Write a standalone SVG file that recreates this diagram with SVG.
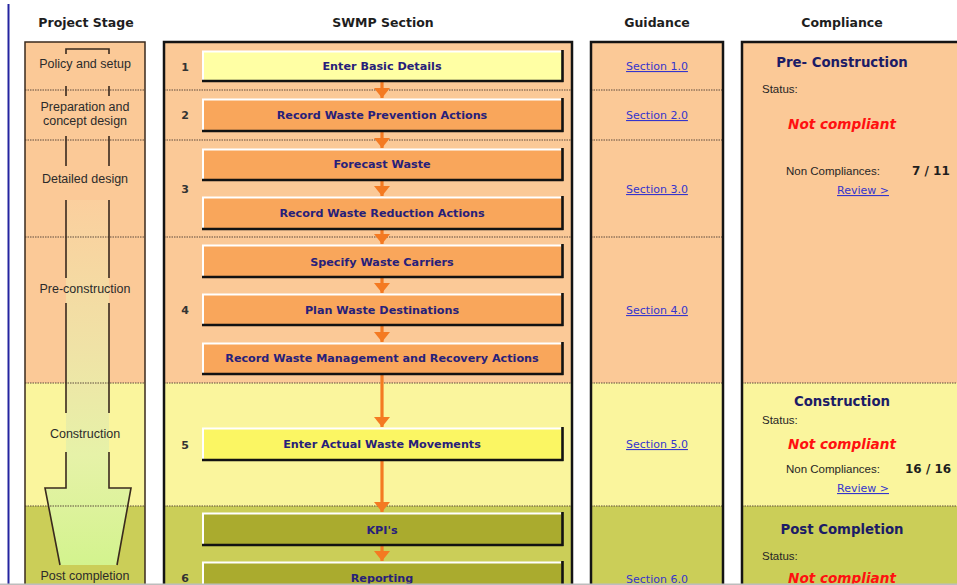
<svg xmlns="http://www.w3.org/2000/svg" width="957" height="585" viewBox="0 0 957 585">
  <defs>
    <linearGradient id="shaftFill" gradientUnits="userSpaceOnUse" x1="0" y1="200" x2="0" y2="565">
      <stop offset="0" stop-color="#FBCF9E"/>
      <stop offset="0.4" stop-color="#F0E2A6"/>
      <stop offset="0.7" stop-color="#E6F2A8"/>
      <stop offset="1" stop-color="#D3F38E"/>
    </linearGradient>
    <marker id="flowHead" markerUnits="userSpaceOnUse" markerWidth="10" markerHeight="16" refX="10" refY="8" orient="auto">
      <path d="M0,0 L10,8 L0,16 Z" fill="#F47A22"/>
    </marker>
    <style>
      .peach { fill: #FBC997; }
      .yellow { fill: #FAF59D; }
      .olive { fill: #CBCE58; }
      .frame { fill: none; stroke: #141414; stroke-width: 2.5; }
      .frame-thin { fill: none; stroke: #3A2A1E; stroke-width: 1.5; }
      .dots { stroke: #5C4A3C; stroke-width: 1; stroke-dasharray: 1.5 1; fill: none; }
      .hdr { font-family: "DejaVu Sans", Verdana, sans-serif; font-weight: bold; font-size: 12.5px; fill: #1E1E1E; text-anchor: middle; }
      .stage { font-family: "Liberation Sans", Arial, sans-serif; font-size: 12.5px; fill: #2B2B2B; text-anchor: middle; }
      .stage-line { fill: none; stroke: #3A2A1E; stroke-width: 1.6; }
      .num { font-family: "DejaVu Sans", Verdana, sans-serif; font-weight: bold; font-size: 11px; fill: #333; text-anchor: middle; }
      .face-y { fill: #FFFFA4; }
      .face-o { fill: #F9A65B; }
      .face-yy { fill: #FBF663; }
      .face-k { fill: #AAAB2E; }
      .hi { fill: none; stroke: #FFFFFF; stroke-width: 2; }
      .sh { fill: none; stroke: #121212; stroke-width: 2.6; }
      .btxt { font-family: "DejaVu Sans", Verdana, sans-serif; font-weight: bold; font-size: 11.2px; fill: #27207A; text-anchor: middle; }
      .link { font-family: "DejaVu Sans", Verdana, sans-serif; font-size: 11px; fill: #3535CC; text-decoration: underline; text-anchor: middle; }
      .phase { font-family: "DejaVu Sans", Verdana, sans-serif; font-weight: bold; font-size: 13.3px; fill: #1C1C66; text-anchor: middle; }
      .lbl { font-family: "Liberation Sans", Arial, sans-serif; font-size: 11.5px; fill: #262626; }
      .bad { font-family: "DejaVu Sans", Verdana, sans-serif; font-weight: bold; font-style: italic; font-size: 13.6px; fill: #FF1010; text-anchor: middle; }
      .count { font-family: "DejaVu Sans", Verdana, sans-serif; font-weight: bold; font-size: 12px; fill: #1E1E1E; }
      .flow { stroke: #F47A22; stroke-width: 3.2; fill: none; marker-end: url(#flowHead); }
    </style>
  </defs>

  <rect x="0" y="0" width="957" height="585" fill="#FFFFFF"/>
  <line x1="8.5" y1="4" x2="8.5" y2="585" stroke="#2424A0" stroke-width="2"/>

  <!-- column headings -->
  <g id="headings">
    <text class="hdr" x="86" y="27">Project Stage</text>
    <text class="hdr" x="383" y="27">SWMP Section</text>
    <text class="hdr" x="657" y="27">Guidance</text>
    <text class="hdr" x="842" y="27">Compliance</text>
  </g>

  <!-- project stage column -->
  <g id="stage-column">
    <rect class="peach" x="25" y="42" width="120" height="341"/>
    <rect class="yellow" x="25" y="383" width="120" height="123"/>
    <rect class="olive" x="25" y="506" width="120" height="90"/>
    <path d="M66,200 H109 V488 H131 L117,565 H60 L45,488 H66 Z" fill="url(#shaftFill)"/>
    <path class="dots" d="M25,90 H145 M25,140 H145 M25,237 H145 M25,383 H145 M25,506 H145"/>
    <path class="stage-line" d="M66,54 V49 H109 V54 M66,86 V96 M109,86 V96 M66,136 V166 M109,136 V166 M66,200 V278 M109,200 V278 M66,303 V413 M109,303 V413 M66,452 V488 H45 L60,565 M109,452 V488 H131 L117,565"/>
    <rect class="frame-thin" x="25" y="42" width="120" height="560"/>
    <text class="stage" x="85" y="68">Policy and setup</text>
    <text class="stage" x="85" y="111">Preparation and</text>
    <text class="stage" x="85" y="125">concept design</text>
    <text class="stage" x="85" y="183">Detailed design</text>
    <text class="stage" x="85" y="293">Pre-construction</text>
    <text class="stage" x="85" y="438">Construction</text>
    <text class="stage" x="85" y="580">Post completion</text>
  </g>

  <!-- SWMP section column -->
  <g id="section-column">
    <rect class="peach" x="164" y="42" width="408" height="341"/>
    <rect class="yellow" x="164" y="383" width="408" height="123"/>
    <rect class="olive" x="164" y="506" width="408" height="90"/>
    <path class="dots" d="M164,90 H572 M164,140 H572 M164,237 H572 M164,383 H572 M164,506 H572"/>
    <rect class="frame" x="164" y="42" width="408" height="560"/>
    <text class="num" x="185" y="71">1</text>
    <text class="num" x="185" y="119">2</text>
    <text class="num" x="185" y="193">3</text>
    <text class="num" x="185" y="314">4</text>
    <text class="num" x="185" y="449">5</text>
    <text class="num" x="185" y="582">6</text>
  </g>

  <!-- connectors between steps -->
  <g id="connectors">
    <line class="flow" x1="382" y1="82" x2="382" y2="98"/>
    <line class="flow" x1="382" y1="132" x2="382" y2="148"/>
    <line class="flow" x1="382" y1="181" x2="382" y2="196"/>
    <line class="flow" x1="382" y1="230" x2="382" y2="244"/>
    <line class="flow" x1="382" y1="278" x2="382" y2="293"/>
    <line class="flow" x1="382" y1="326" x2="382" y2="342"/>
    <line class="flow" x1="382" y1="375" x2="382" y2="427"/>
    <line class="flow" x1="382" y1="461" x2="382" y2="512"/>
    <line class="flow" x1="382" y1="546" x2="382" y2="561"/>
  </g>

  <!-- step buttons -->
  <g id="step-basic-details">
    <rect class="face-y" x="202" y="51" width="360" height="30"/>
    <path class="hi" d="M203,80 V51.5 H561"/>
    <path class="sh" d="M202,81 H563.5 M562.5,50 V82"/>
    <text class="btxt" x="382" y="70">Enter Basic Details</text>
  </g>
  <g id="step-prevention">
    <rect class="face-o" x="202" y="99" width="360" height="32"/>
    <path class="hi" d="M203,130 V99.5 H561"/>
    <path class="sh" d="M202,131 H563.5 M562.5,98 V132"/>
    <text class="btxt" x="382" y="119">Record Waste Prevention Actions</text>
  </g>
  <g id="step-forecast">
    <rect class="face-o" x="202" y="149" width="360" height="31"/>
    <path class="hi" d="M203,179 V149.5 H561"/>
    <path class="sh" d="M202,180 H563.5 M562.5,148 V181"/>
    <text class="btxt" x="382" y="168">Forecast Waste</text>
  </g>
  <g id="step-reduction">
    <rect class="face-o" x="202" y="197" width="360" height="32"/>
    <path class="hi" d="M203,228 V197.5 H561"/>
    <path class="sh" d="M202,229 H563.5 M562.5,196 V230"/>
    <text class="btxt" x="382" y="217">Record Waste Reduction Actions</text>
  </g>
  <g id="step-carriers">
    <rect class="face-o" x="202" y="245" width="360" height="32"/>
    <path class="hi" d="M203,276 V245.5 H561"/>
    <path class="sh" d="M202,277 H563.5 M562.5,244 V278"/>
    <text class="btxt" x="382" y="266">Specify Waste Carriers</text>
  </g>
  <g id="step-destinations">
    <rect class="face-o" x="202" y="294" width="360" height="31"/>
    <path class="hi" d="M203,324 V294.5 H561"/>
    <path class="sh" d="M202,325 H563.5 M562.5,293 V326"/>
    <text class="btxt" x="382" y="314">Plan Waste Destinations</text>
  </g>
  <g id="step-recovery">
    <rect class="face-o" x="202" y="343" width="360" height="31"/>
    <path class="hi" d="M203,373 V343.5 H561"/>
    <path class="sh" d="M202,374 H563.5 M562.5,342 V375"/>
    <text class="btxt" x="382" y="362">Record Waste Management and Recovery Actions</text>
  </g>
  <g id="step-movements">
    <rect class="face-yy" x="202" y="428" width="360" height="32"/>
    <path class="hi" d="M203,459 V428.5 H561"/>
    <path class="sh" d="M202,460 H563.5 M562.5,427 V461"/>
    <text class="btxt" x="382" y="448">Enter Actual Waste Movements</text>
  </g>
  <g id="step-kpis">
    <rect class="face-k" x="202" y="513" width="360" height="32"/>
    <path class="hi" d="M203,544 V513.5 H561"/>
    <path class="sh" d="M202,545 H563.5 M562.5,512 V546"/>
    <text class="btxt" x="382" y="534">KPI's</text>
  </g>
  <g id="step-reporting">
    <rect class="face-k" x="202" y="562" width="360" height="32"/>
    <path class="hi" d="M203,593 V562.5 H561"/>
    <path class="sh" d="M202,594 H563.5 M562.5,561 V595"/>
    <text class="btxt" x="382" y="582">Reporting</text>
  </g>

  <!-- guidance column -->
  <g id="guidance-column">
    <rect class="peach" x="591" y="42" width="132" height="341"/>
    <rect class="yellow" x="591" y="383" width="132" height="123"/>
    <rect class="olive" x="591" y="506" width="132" height="90"/>
    <path class="dots" d="M591,90 H723 M591,140 H723 M591,237 H723 M591,383 H723 M591,506 H723"/>
    <rect class="frame" x="591" y="42" width="132" height="560"/>
    <text class="link" x="657" y="70">Section 1.0</text>
    <text class="link" x="657" y="119">Section 2.0</text>
    <text class="link" x="657" y="193">Section 3.0</text>
    <text class="link" x="657" y="314">Section 4.0</text>
    <text class="link" x="657" y="448">Section 5.0</text>
    <text class="link" x="657" y="583">Section 6.0</text>
  </g>

  <!-- compliance column -->
  <g id="compliance-column">
    <rect class="peach" x="742" y="42" width="240" height="341"/>
    <rect class="yellow" x="742" y="383" width="240" height="123"/>
    <rect class="olive" x="742" y="506" width="240" height="90"/>
    <path class="dots" d="M742,383 H982 M742,506 H982"/>
    <rect class="frame" x="742" y="42" width="240" height="560"/>

    <text class="phase" x="842" y="67">Pre- Construction</text>
    <text class="lbl" x="762" y="93">Status:</text>
    <text class="bad" x="842" y="129">Not compliant</text>
    <text class="lbl" x="786" y="175">Non Compliances:</text>
    <text class="count" x="912" y="175">7 / 11</text>
    <text class="link" x="863" y="194">Review &gt;</text>

    <text class="phase" x="842" y="406">Construction</text>
    <text class="lbl" x="762" y="424">Status:</text>
    <text class="bad" x="842" y="449">Not compliant</text>
    <text class="lbl" x="786" y="473">Non Compliances:</text>
    <text class="count" x="905" y="473">16 / 16</text>
    <text class="link" x="863" y="492">Review &gt;</text>

    <text class="phase" x="842" y="534">Post Completion</text>
    <text class="lbl" x="762" y="560">Status:</text>
    <text class="bad" x="842" y="583">Not compliant</text>
  </g>

  <rect x="0" y="583.5" width="957" height="1.5" fill="#BDBDBD"/>
</svg>
